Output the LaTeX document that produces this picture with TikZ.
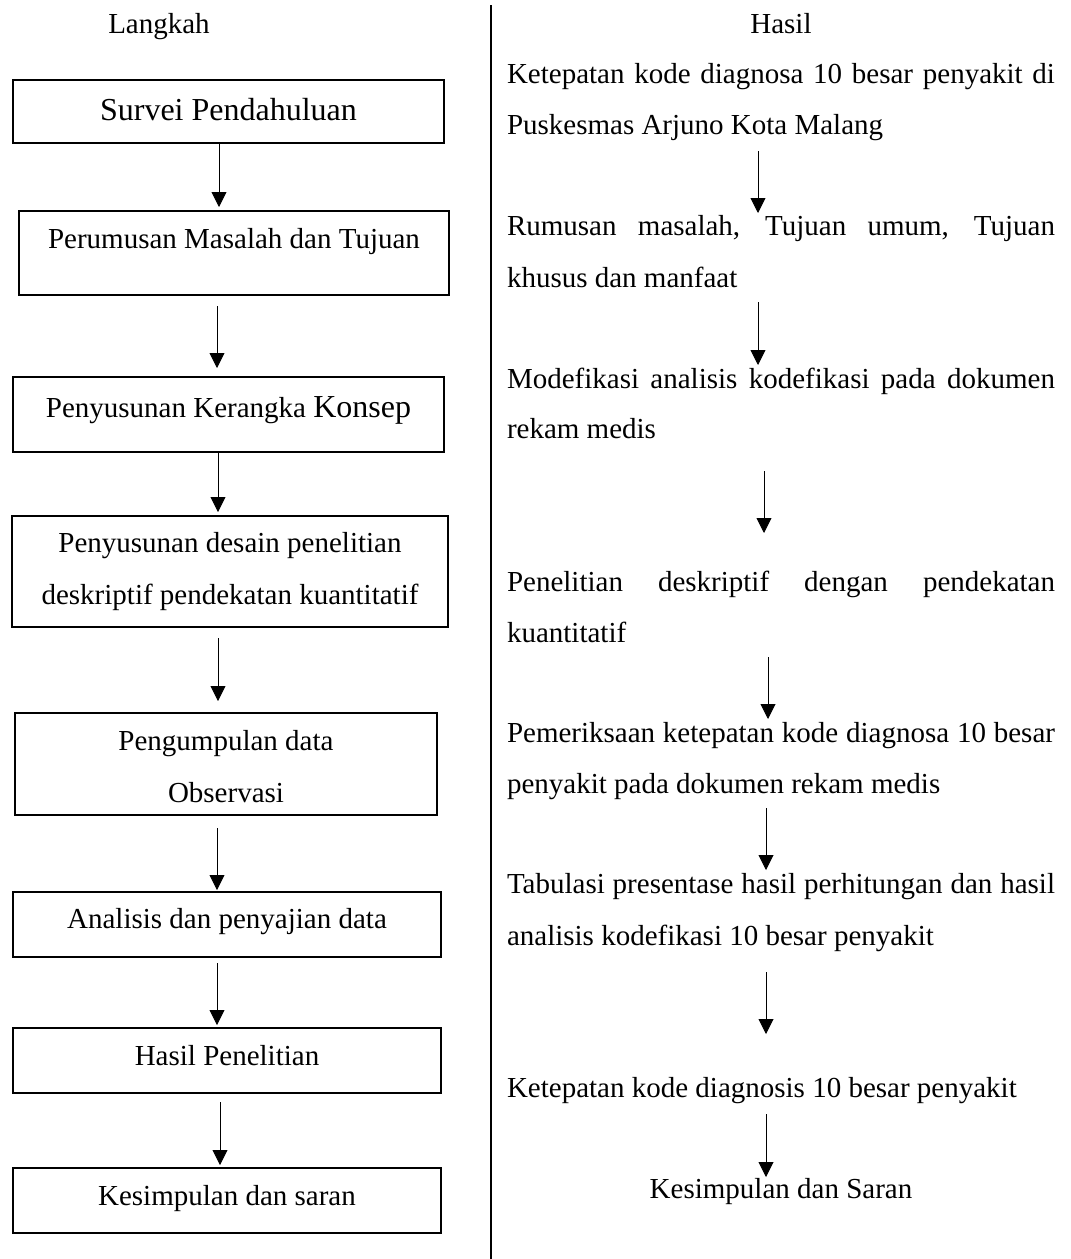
\documentclass[tikz,border=0pt]{standalone}
\usepackage{fontspec}
\setmainfont{Liberation Serif}
\usetikzlibrary{arrows.meta,calc}
\begin{document}
\begin{tikzpicture}[x=1pt,y=-1pt,
  box/.style={draw, line width=1.1pt, inner sep=0pt, outer sep=0pt},
  txt/.style={inner sep=0pt, outer sep=0pt, font=\fontsize{29}{35}\selectfont},
  bigtxt/.style={inner sep=0pt, outer sep=0pt, font=\fontsize{32}{38}\selectfont},
  arr/.style={line width=0.9pt, -{Triangle[width=15pt,length=15pt]}},
  divider/.style={line width=2pt}
]
\useasboundingbox (0,0) rectangle (1071,1259);

% divider
\coordinate (dtop) at (491,5);
\coordinate (dbot) at (491,1259);
\draw[divider] (dtop) -- (dbot);

% headers
\node[txt, anchor=base] (hl) at (159,33) {Langkah};
\node[txt, anchor=base] (hr) at (781,33) {Hasil};

% left boxes
\node[box, minimum width=431pt, minimum height=63pt] (b1) at (228.5,111.5) {};
\node[box, minimum width=430pt, minimum height=84pt] (b2) at (234,253) {};
\node[box, minimum width=431pt, minimum height=75pt] (b3) at (228.5,414.5) {};
\node[box, minimum width=436pt, minimum height=111pt] (b4) at (230,571.5) {};
\node[box, minimum width=422pt, minimum height=102pt] (b5) at (226,764) {};
\node[box, minimum width=428pt, minimum height=65pt] (b6) at (227,924.5) {};
\node[box, minimum width=428pt, minimum height=65pt] (b7) at (227,1060.5) {};
\node[box, minimum width=428pt, minimum height=65pt] (b8) at (227,1200.5) {};

% left texts
\node[bigtxt, anchor=base] (t1) at (228.5,120) {Survei Pendahuluan};
\node[txt, anchor=base] (t2) at (234,248) {Perumusan Masalah dan Tujuan};
\node[txt, anchor=base] (t3) at (228.5,417) {Penyusunan Kerangka {\fontsize{32}{38}\selectfont Konsep}};
\node[txt, anchor=base] (t4a) at (230,552) {Penyusunan desain penelitian};
\node[txt, anchor=base] (t4b) at (230,604) {deskriptif pendekatan kuantitatif};
\node[txt, anchor=base] (t5a) at (226,750) {Pengumpulan data};
\node[txt, anchor=base] (t5b) at (226,802) {Observasi};
\node[txt, anchor=base] (t6) at (227,928) {Analisis dan penyajian data};
\node[txt, anchor=base] (t7) at (227,1065) {Hasil Penelitian};
\node[txt, anchor=base] (t8) at (227,1205) {Kesimpulan dan saran};

% left arrow x positions
\coordinate (l1) at (219,0);
\coordinate (l2) at (217,0);
\coordinate (l3) at (218,0);
\coordinate (l4) at (218,0);
\coordinate (l5) at (217,0);
\coordinate (l6) at (217,0);
\coordinate (l7) at (220,0);

\draw[arr] ($(b1.south -| l1)+(0,1)$) -- ($(b2.north -| l1)+(0,-4)$);
\draw[arr] ($(b2.south -| l2)+(0,11)$) -- ($(b3.north -| l2)+(0,-9)$);
\draw[arr] ($(b3.south -| l3)+(0,0)$) -- ($(b4.north -| l3)+(0,-4)$);
\draw[arr] ($(b4.south -| l4)+(0,11)$) -- ($(b5.north -| l4)+(0,-12)$);
\draw[arr] ($(b5.south -| l5)+(0,13)$) -- ($(b6.north -| l5)+(0,-2)$);
\draw[arr] ($(b6.south -| l6)+(0,6)$) -- ($(b7.north -| l6)+(0,-3)$);
\draw[arr] ($(b7.south -| l7)+(0,9)$) -- ($(b8.north -| l7)+(0,-3)$);

% right texts
\node[txt, anchor=base west] (r1a) at (507,83) {\makebox[548pt][s]{Ketepatan kode diagnosa 10 besar penyakit di}};
\node[txt, anchor=base west] (r1b) at (507,134) {Puskesmas Arjuno Kota Malang};
\node[txt, anchor=base west] (r2a) at (507,235) {\makebox[548pt][s]{Rumusan masalah, Tujuan umum, Tujuan}};
\node[txt, anchor=base west] (r2b) at (507,287) {khusus dan manfaat};
\node[txt, anchor=base west] (r3a) at (507,388) {\makebox[548pt][s]{Modefikasi analisis kodefikasi pada dokumen}};
\node[txt, anchor=base west] (r3b) at (507,438) {rekam medis};
\node[txt, anchor=base west] (r4a) at (507,591) {\makebox[548pt][s]{Penelitian deskriptif dengan pendekatan}};
\node[txt, anchor=base west] (r4b) at (507,642) {kuantitatif};
\node[txt, anchor=base west] (r5a) at (507,742) {\makebox[548pt][s]{Pemeriksaan ketepatan kode diagnosa 10 besar}};
\node[txt, anchor=base west] (r5b) at (507,793) {penyakit pada dokumen rekam medis};
\node[txt, anchor=base west] (r6a) at (507,893) {\makebox[548pt][s]{Tabulasi presentase hasil perhitungan dan hasil}};
\node[txt, anchor=base west] (r6b) at (507,945) {analisis kodefikasi 10 besar penyakit};
\node[txt, anchor=base west] (r7) at (507,1097) {Ketepatan kode diagnosis 10 besar penyakit};
\node[txt, anchor=base] (r8) at (781,1198) {Kesimpulan dan Saran};

% right arrow x positions
\coordinate (q1) at (758,0);
\coordinate (q2) at (758,0);
\coordinate (q3) at (764,0);
\coordinate (q4) at (768,0);
\coordinate (q5) at (766,0);
\coordinate (q6) at (766,0);
\coordinate (q7) at (766,0);

\draw[arr] ($(r1b.base -| q1)+(0,17)$) -- ($(r2a.base -| q1)+(0,-22)$);
\draw[arr] ($(r2b.base -| q2)+(0,15)$) -- ($(r3a.base -| q2)+(0,-23)$);
\draw[arr] ($(r3b.base -| q3)+(0,33)$) -- ($(r4a.base -| q3)+(0,-58)$);
\draw[arr] ($(r4b.base -| q4)+(0,15)$) -- ($(r5a.base -| q4)+(0,-23)$);
\draw[arr] ($(r5b.base -| q5)+(0,15)$) -- ($(r6a.base -| q5)+(0,-23)$);
\draw[arr] ($(r6b.base -| q6)+(0,27)$) -- ($(r7.base -| q6)+(0,-63)$);
\draw[arr] ($(r7.base -| q7)+(0,17)$) -- ($(r8.base -| q7)+(0,-21)$);
\end{tikzpicture}
\end{document}
